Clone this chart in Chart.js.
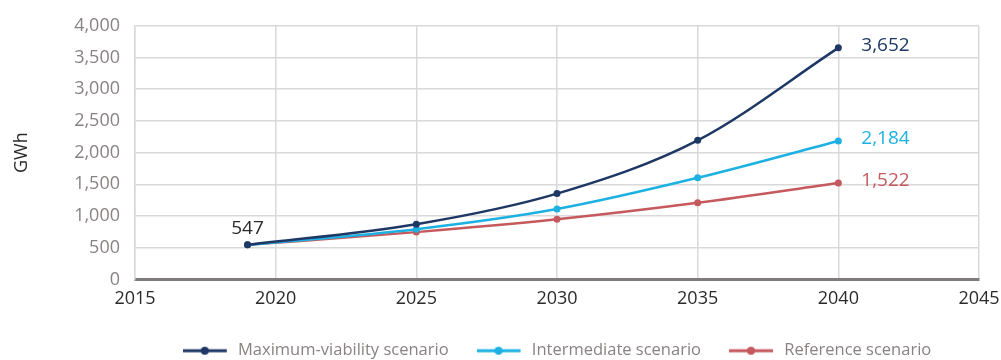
<!DOCTYPE html>
<html>
<head>
<meta charset="utf-8">
<script src="https://cdn.jsdelivr.net/npm/chart.js@4.4.1/dist/chart.umd.min.js"></script>
<style>
  html, body { margin: 0; padding: 0; background: #fff; }
  #wrap { width: 1001px; height: 360px; }
</style>
</head>
<body>
<div id="wrap"><canvas id="energyChart" width="1001" height="360"></canvas></div>
<script>
const years = [2019, 2025, 2030, 2035, 2040];
const maxViability = [547, 872, 1354, 2194, 3652];
const intermediate = [547, 794, 1111, 1603, 2184];
const reference = [547, 747, 949, 1209, 1522];
const seriesNames = ['Maximum-viability scenario', 'Intermediate scenario', 'Reference scenario'];
const seriesColors = ['#1e3765', '#1cb1e2', '#c5595d'];

const FONT = '"Open Sans", "DejaVu Sans", sans-serif';
const fmt = v => v.toLocaleString('en-US');

// legend swatch: short line with a dot in the middle (a few px of spare room on the right)
function swatch(color) {
    const c = document.createElement('canvas');
    c.width = 47; c.height = 10;
    const g = c.getContext('2d');
    g.strokeStyle = color;
    g.lineWidth = 3;
    g.beginPath(); g.moveTo(0, 5); g.lineTo(44, 5); g.stroke();
    g.fillStyle = color;
    g.beginPath(); g.arc(22, 5, 4, 0, Math.PI * 2); g.fill();
    return c;
}

// value labels: start value above the first point, end values right of the last points
const valueLabels = {
    id: 'valueLabels',
    afterDatasetsDraw(chart) {
        const ctx = chart.ctx;
        ctx.save();
        ctx.font = '19px ' + FONT;
        ctx.textBaseline = 'middle';
        chart.data.datasets.forEach((ds, i) => {
            const pts = chart.getDatasetMeta(i).data;
            const last = pts[pts.length - 1];
            ctx.fillStyle = ds.borderColor;
            ctx.textAlign = 'left';
            ctx.fillText(fmt(ds.data[ds.data.length - 1].y), last.x + 23, last.y - 2);
        });
        const first = chart.getDatasetMeta(2).data[0];
        ctx.fillStyle = '#2b2b2b';
        ctx.textAlign = 'center';
        ctx.fillText(fmt(chart.data.datasets[2].data[0].y), first.x, first.y - 16);
        ctx.restore();
    }
};

const makeSet = (i, values) => ({
    label: seriesNames[i],
    data: years.map((x, k) => ({ x: x, y: values[k] })),
    borderColor: seriesColors[i],
    backgroundColor: seriesColors[i],
    borderWidth: 2.5,
    pointRadius: 3.5,
    pointHoverRadius: 3.5,
    pointBorderWidth: 0,
    cubicInterpolationMode: 'monotone',
    fill: false
});

const ctx = document.getElementById('energyChart').getContext('2d');
const chart = new Chart(ctx, {
    type: 'line',
    data: {
        datasets: [makeSet(0, maxViability), makeSet(1, intermediate), makeSet(2, reference)]
    },
    plugins: [valueLabels],
    options: {
        responsive: false,
        animation: false,
        layout: { padding: { top: 22, right: 22, left: 0, bottom: -9 } },
        plugins: {
            legend: {
                position: 'bottom',
                fullSize: false,
                labels: {
                    font: { family: FONT, size: 16.5 },
                    color: '#8a8282',
                    boxWidth: 47,
                    boxHeight: 10,
                    pointStyleWidth: 47,
                    padding: 28,
                    usePointStyle: true,
                    generateLabels(chart) {
                        return chart.data.datasets.map((ds, i) => ({
                            text: ds.label,
                            pointStyle: swatch(ds.borderColor),
                            fillStyle: ds.borderColor,
                            strokeStyle: ds.borderColor,
                            lineWidth: 0,
                            fontColor: '#8a8282',
                            datasetIndex: i
                        }));
                    }
                }
            },
            tooltip: { enabled: false }
        },
        scales: {
            x: {
                type: 'linear',
                min: 2015,
                max: 2045,
                ticks: {
                    stepSize: 5,
                    callback: v => String(v),
                    font: { family: FONT, size: 18 },
                    color: '#2b2b2b',
                    padding: 9
                },
                grid: { color: '#d9d9d9', lineWidth: 1.5, drawTicks: false },
                border: { color: '#7f7b7b', width: 3 },
                afterFit(scale) {
                    scale.height = 35;
                    scale.paddingRight = 0;
                }
            },
            y: {
                min: 0,
                max: 4000,
                ticks: {
                    stepSize: 500,
                    callback: v => fmt(v),
                    font: { family: FONT, size: 18 },
                    color: '#8a8282',
                    padding: 15
                },
                title: {
                    display: true,
                    text: 'GWh',
                    font: { family: FONT, size: 18 },
                    color: '#2b2b2b',
                    padding: { top: 11, bottom: 0 }
                },
                grid: { color: '#d9d9d9', lineWidth: 1.5, drawTicks: false },
                border: { color: '#d9d9d9', width: 1.5 },
                afterFit(scale) { scale.width = 135; }
            }
        }
    }
});
</script>
</body>
</html>
